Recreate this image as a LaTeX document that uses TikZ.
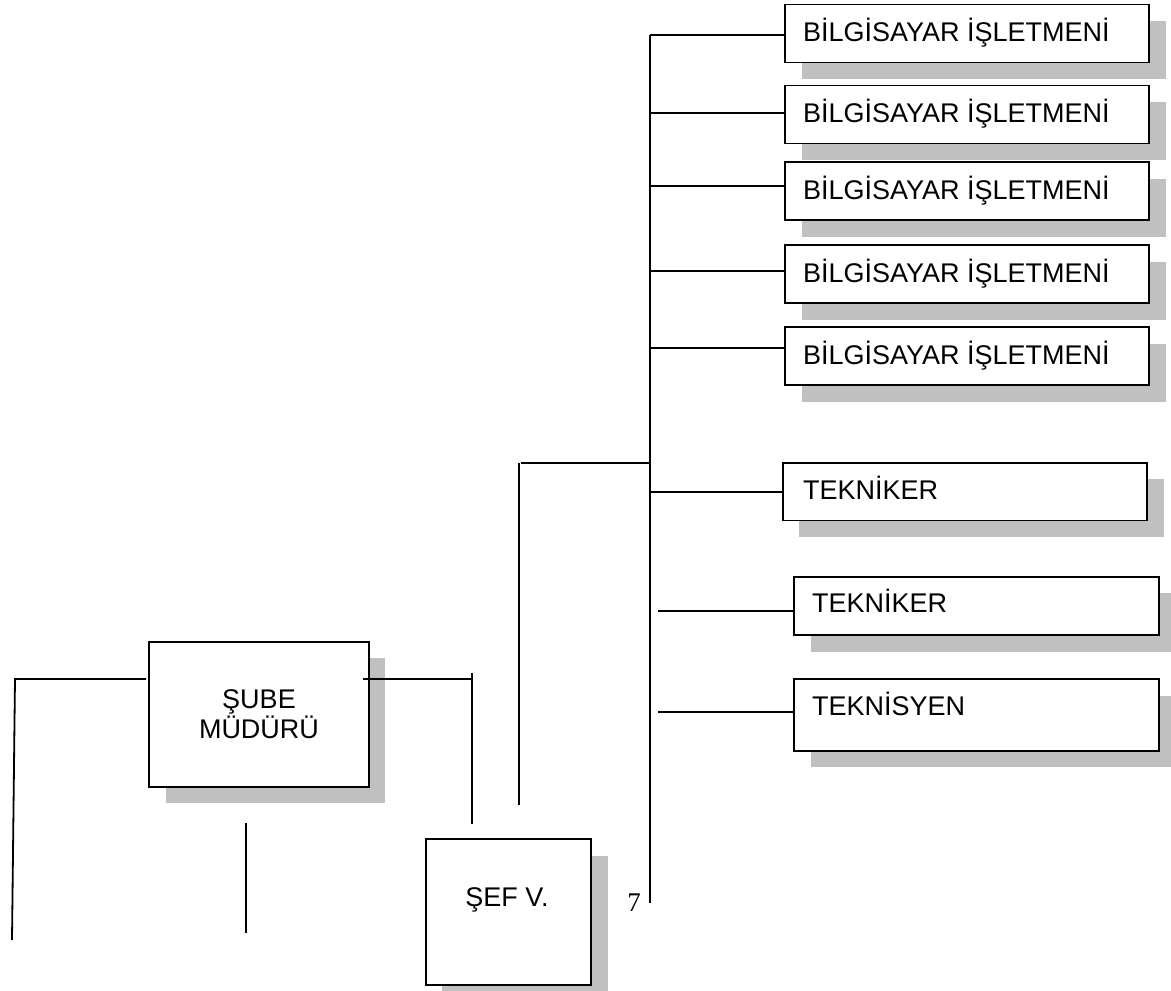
\documentclass[tikz,border=0pt]{standalone}
\usepackage{fontspec}
\setmainfont{Liberation Sans}
\newfontfamily\serifnum{Liberation Serif}
\usetikzlibrary{shadows}
\definecolor{shadowgray}{RGB}{192,192,192}
\tikzset{
  boxshape/.style={draw=black, line width=1.8pt, fill=white, rectangle,
    anchor=north west, inner sep=0pt, outer sep=0pt,
    drop shadow={shadow xshift=16.5pt, shadow yshift=-16.5pt, fill=shadowgray, opacity=1}},
  lbl/.style={font=\fontsize{27}{30}\selectfont, inner sep=0pt, outer sep=0pt},
  conn/.style={line width=1.8pt, draw=black}
}
\begin{document}
\begin{tikzpicture}[x=1pt, y=-1pt]
\useasboundingbox (0,0) rectangle (1171,991);
\fill[white] (0,0) rectangle (1171,991);

% BILGISAYAR boxes
\node[boxshape, minimum width=364pt, minimum height=58pt] (b1) at (785,4.5) {};
\node[boxshape, minimum width=364pt, minimum height=58pt] (b2) at (785,85.5) {};
\node[boxshape, minimum width=364pt, minimum height=58pt] (b3) at (785,162) {};
\node[boxshape, minimum width=364pt, minimum height=58pt] (b4) at (785,245) {};
\node[boxshape, minimum width=364pt, minimum height=58pt] (b5) at (785,327) {};
\foreach \b/\y in {b1/4.5, b2/85.5, b3/162, b4/245, b5/327}{
  \node[lbl, anchor=base west] (\b l) at (803,\y+37) {BİLGİSAYAR İŞLETMENİ};
}

% TEKNIKER boxes
\node[boxshape, minimum width=364.5pt, minimum height=57.7pt] (t1) at (782.6,462.7) {};
\node[lbl, anchor=base west] (t1l) at (803,499.3) {TEKNİKER};
\node[boxshape, minimum width=364.7pt, minimum height=58.3pt] (t2) at (794,576.7) {};
\node[lbl, anchor=base west] (t2l) at (812,612.7) {TEKNİKER};
\node[boxshape, minimum width=364.7pt, minimum height=71.7pt] (t3) at (794,679) {};
\node[lbl, anchor=base west] (t3l) at (812,715.7) {TEKNİSYEN};

% SUBE MUDURU
\node[boxshape, minimum width=219.7pt, minimum height=145pt] (sm) at (149,641.7) {};
\node[lbl, align=center, anchor=north] (sml) at (259,689.7) {ŞUBE\\MÜDÜRÜ};

% SEF V.
\node[boxshape, minimum width=165.3pt, minimum height=146pt] (sv) at (425.7,839) {};
\node[lbl, anchor=base] (svl) at (507,906) {ŞEF V.};

% page number
\node[inner sep=0pt, font=\serifnum\fontsize{27}{30}\selectfont, anchor=base] (num) at (634,911) {7};

% spine
\coordinate (sptop) at (650,35);
\coordinate (spbot) at (650,903);
\draw[conn] (sptop) -- (spbot);
\foreach \b/\y in {b1/35, b2/113, b3/186, b4/271, b5/348}{
  \coordinate (s\b) at (650,\y);
  \draw[conn] (s\b) -- (s\b -| \b.west);
}
\coordinate (st1) at (650,492);
\draw[conn] (st1) -- (st1 -| t1.west);
\coordinate (st2) at (658,611);
\draw[conn] (st2) -- (st2 -| t2.west);
\coordinate (st3) at (658,712);
\draw[conn] (st3) -- (st3 -| t3.west);

% branch to the left of spine
\coordinate (br1) at (650,463);
\coordinate (br2) at (521,463);
\draw[conn] (br1) -- (br2);
\coordinate (bv1) at (519,463);
\coordinate (bv2) at (519,805);
\draw[conn] (bv1) -- (bv2);

% lines around SUBE MUDURU
\coordinate (l1) at (146,679);
\coordinate (l2) at (15,679);
\coordinate (l3) at (12,940);
\draw[conn] (l1) -- (l2) -- (l3);
\coordinate (r1) at (363,679);
\coordinate (r2) at (472,679);
\draw[conn] (r1) -- (r2);
\coordinate (rv1) at (472,673);
\coordinate (rv2) at (472,824);
\draw[conn] (rv1) -- (rv2);
\coordinate (m1) at (246,823);
\coordinate (m2) at (246,933);
\draw[conn] (m1) -- (m2);
\end{tikzpicture}
\end{document}
